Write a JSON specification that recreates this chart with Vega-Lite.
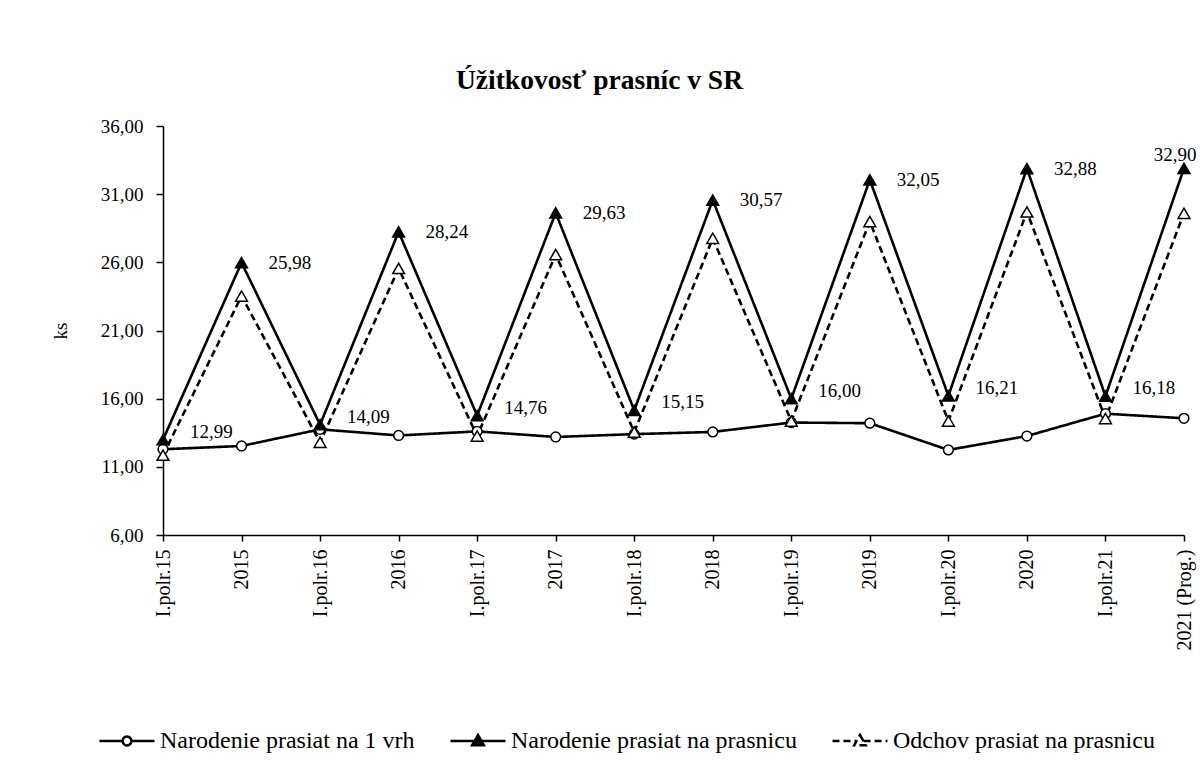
{
  "$schema": "https://vega.github.io/schema/vega-lite/v6.json",
  "width": 1021,
  "height": 409,
  "padding": {"left": 51, "top": 66, "right": 10, "bottom": 5},
  "background": "white",
  "title": {
    "text": "Úžitkovosť prasníc  v SR",
    "font": "Liberation Serif",
    "fontSize": 27.5,
    "fontWeight": "bold",
    "color": "black",
    "anchor": "middle",
    "dx": -74,
    "offset": 23
  },
  "data": {
    "values": [
      {"period": "I.polr.15", "kind": "polr", "series": "Narodenie prasiat na 1 vrh", "value": 12.29},
      {"period": "2015", "kind": "rok", "series": "Narodenie prasiat na 1 vrh", "value": 12.53},
      {"period": "I.polr.16", "kind": "polr", "series": "Narodenie prasiat na 1 vrh", "value": 13.75},
      {"period": "2016", "kind": "rok", "series": "Narodenie prasiat na 1 vrh", "value": 13.30},
      {"period": "I.polr.17", "kind": "polr", "series": "Narodenie prasiat na 1 vrh", "value": 13.60},
      {"period": "2017", "kind": "rok", "series": "Narodenie prasiat na 1 vrh", "value": 13.19},
      {"period": "I.polr.18", "kind": "polr", "series": "Narodenie prasiat na 1 vrh", "value": 13.40},
      {"period": "2018", "kind": "rok", "series": "Narodenie prasiat na 1 vrh", "value": 13.56},
      {"period": "I.polr.19", "kind": "polr", "series": "Narodenie prasiat na 1 vrh", "value": 14.25},
      {"period": "2019", "kind": "rok", "series": "Narodenie prasiat na 1 vrh", "value": 14.20},
      {"period": "I.polr.20", "kind": "polr", "series": "Narodenie prasiat na 1 vrh", "value": 12.24},
      {"period": "2020", "kind": "rok", "series": "Narodenie prasiat na 1 vrh", "value": 13.26},
      {"period": "I.polr.21", "kind": "polr", "series": "Narodenie prasiat na 1 vrh", "value": 14.90},
      {"period": "2021 (Prog.)", "kind": "last", "series": "Narodenie prasiat na 1 vrh", "value": 14.56},

      {"period": "I.polr.15", "kind": "polr", "series": "Narodenie prasiat na prasnicu", "value": 12.99},
      {"period": "2015", "kind": "rok", "series": "Narodenie prasiat na prasnicu", "value": 25.98},
      {"period": "I.polr.16", "kind": "polr", "series": "Narodenie prasiat na prasnicu", "value": 14.09},
      {"period": "2016", "kind": "rok", "series": "Narodenie prasiat na prasnicu", "value": 28.24},
      {"period": "I.polr.17", "kind": "polr", "series": "Narodenie prasiat na prasnicu", "value": 14.76},
      {"period": "2017", "kind": "rok", "series": "Narodenie prasiat na prasnicu", "value": 29.63},
      {"period": "I.polr.18", "kind": "polr", "series": "Narodenie prasiat na prasnicu", "value": 15.15},
      {"period": "2018", "kind": "rok", "series": "Narodenie prasiat na prasnicu", "value": 30.57},
      {"period": "I.polr.19", "kind": "polr", "series": "Narodenie prasiat na prasnicu", "value": 16.00},
      {"period": "2019", "kind": "rok", "series": "Narodenie prasiat na prasnicu", "value": 32.05},
      {"period": "I.polr.20", "kind": "polr", "series": "Narodenie prasiat na prasnicu", "value": 16.21},
      {"period": "2020", "kind": "rok", "series": "Narodenie prasiat na prasnicu", "value": 32.88},
      {"period": "I.polr.21", "kind": "polr", "series": "Narodenie prasiat na prasnicu", "value": 16.18},
      {"period": "2021 (Prog.)", "kind": "last", "series": "Narodenie prasiat na prasnicu", "value": 32.90},

      {"period": "I.polr.15", "kind": "polr", "series": "Odchov prasiat na prasnicu", "value": 11.85},
      {"period": "2015", "kind": "rok", "series": "Odchov prasiat na prasnicu", "value": 23.53},
      {"period": "I.polr.16", "kind": "polr", "series": "Odchov prasiat na prasnicu", "value": 12.80},
      {"period": "2016", "kind": "rok", "series": "Odchov prasiat na prasnicu", "value": 25.55},
      {"period": "I.polr.17", "kind": "polr", "series": "Odchov prasiat na prasnicu", "value": 13.26},
      {"period": "2017", "kind": "rok", "series": "Odchov prasiat na prasnicu", "value": 26.57},
      {"period": "I.polr.18", "kind": "polr", "series": "Odchov prasiat na prasnicu", "value": 13.55},
      {"period": "2018", "kind": "rok", "series": "Odchov prasiat na prasnicu", "value": 27.76},
      {"period": "I.polr.19", "kind": "polr", "series": "Odchov prasiat na prasnicu", "value": 14.36},
      {"period": "2019", "kind": "rok", "series": "Odchov prasiat na prasnicu", "value": 28.99},
      {"period": "I.polr.20", "kind": "polr", "series": "Odchov prasiat na prasnicu", "value": 14.36},
      {"period": "2020", "kind": "rok", "series": "Odchov prasiat na prasnicu", "value": 29.70},
      {"period": "I.polr.21", "kind": "polr", "series": "Odchov prasiat na prasnicu", "value": 14.54},
      {"period": "2021 (Prog.)", "kind": "last", "series": "Odchov prasiat na prasnicu", "value": 29.60}
    ]
  },
  "encoding": {
    "x": {
      "field": "period",
      "type": "ordinal",
      "sort": ["I.polr.15", "2015", "I.polr.16", "2016", "I.polr.17", "2017", "I.polr.18", "2018", "I.polr.19", "2019", "I.polr.20", "2020", "I.polr.21", "2021 (Prog.)"],
      "scale": {"type": "point", "padding": 0},
      "axis": {
        "title": null,
        "labelAngle": -90,
        "labelFontSize": 20,
        "labelPadding": 8,
        "tickSize": 6,
        "domainWidth": 1.5,
        "tickWidth": 1.5
      }
    },
    "y": {
      "field": "value",
      "type": "quantitative",
      "scale": {"domain": [6, 36], "nice": false, "zero": false},
      "axis": {
        "title": "ks",
        "titleFontSize": 19,
        "titleFontWeight": "normal",
        "titlePadding": 30,
        "values": [6, 11, 16, 21, 26, 31, 36],
        "format": ".2f",
        "labelFontSize": 19,
        "labelPadding": 13,
        "tickSize": 7,
        "grid": false,
        "domainWidth": 1.5,
        "tickWidth": 1.5
      }
    }
  },
  "layer": [
    {
      "mark": {"type": "line", "color": "black", "strokeWidth": 2.6},
      "encoding": {
        "strokeDash": {
          "field": "series",
          "type": "nominal",
          "scale": {
            "domain": ["Narodenie prasiat na 1 vrh", "Narodenie prasiat na prasnicu", "Odchov prasiat na prasnicu"],
            "range": [[1, 0], [1, 0], [7, 4]]
          },
          "legend": {
            "title": null,
            "orient": "none",
            "legendX": -65,
            "legendY": 586,
            "direction": "horizontal",
            "labelFontSize": 24,
            "labelFont": "Liberation Serif",
            "labelColor": "black",
            "labelLimit": 0,
            "labelOffset": 4,
            "columnPadding": 30,
            "symbolSize": 3025,
            "symbolStrokeWidth": 2.5,
            "symbolStrokeColor": "black",
            "encode": {
              "symbols": {
                "update": {
                  "shape": {"signal": "datum.value === 'Narodenie prasiat na 1 vrh' ? 'M-1,0H-0.16M0.16,0H1M0.16,0A0.16,0.16,0,1,1,-0.16,0A0.16,0.16,0,1,1,0.16,0Z' : datum.value === 'Narodenie prasiat na prasnicu' ? 'M-1,0H1M0,-0.22L0.21,0.15L-0.21,0.15Z' : 'M-1,0H-0.13M0.13,0H1M0,-0.22L0.21,0.15L-0.21,0.15Z'"},
                  "fill": {"signal": "datum.value === 'Narodenie prasiat na prasnicu' ? 'black' : 'white'"},
                  "strokeDash": {"signal": "datum.value === 'Odchov prasiat na prasnicu' ? [4, 3] : [1, 0]"},
                  "stroke": {"value": "black"},
                  "strokeWidth": {"value": 2.5},
                  "opacity": {"value": 1}
                }
              }
            }
          }
        }
      }
    },
    {
      "transform": [{"filter": "datum.series === 'Narodenie prasiat na 1 vrh'"}],
      "mark": {"type": "point", "shape": "circle", "filled": true, "fill": "white", "stroke": "black", "strokeWidth": 1.5, "opacity": 1, "size": 95},
      "encoding": {}
    },
    {
      "transform": [{"filter": "datum.series === 'Narodenie prasiat na prasnicu'"}],
      "mark": {"type": "point", "shape": "triangle-up", "filled": true, "fill": "black", "stroke": "black", "strokeWidth": 1.5, "opacity": 1, "size": 140},
      "encoding": {}
    },
    {
      "transform": [{"filter": "datum.series === 'Odchov prasiat na prasnicu'"}],
      "mark": {"type": "point", "shape": "triangle-up", "filled": true, "fill": "white", "stroke": "black", "strokeWidth": 1.5, "opacity": 1, "size": 140},
      "encoding": {}
    },
    {
      "transform": [{"filter": "datum.series === 'Narodenie prasiat na prasnicu' && datum.kind === 'rok'"}],
      "mark": {"type": "text", "align": "left", "baseline": "middle", "dx": 27, "dy": 0, "fontSize": 19, "font": "Liberation Serif", "color": "black"},
      "encoding": {"text": {"field": "value", "type": "quantitative", "format": ".2f"}}
    },
    {
      "transform": [{"filter": "datum.series === 'Narodenie prasiat na prasnicu' && datum.kind === 'polr'"}],
      "mark": {"type": "text", "align": "left", "baseline": "middle", "dx": 27, "dy": -8, "fontSize": 19, "font": "Liberation Serif", "color": "black"},
      "encoding": {"text": {"field": "value", "type": "quantitative", "format": ".2f"}}
    },
    {
      "transform": [{"filter": "datum.series === 'Narodenie prasiat na prasnicu' && datum.kind === 'last'"}],
      "mark": {"type": "text", "align": "center", "baseline": "middle", "dx": -9, "dy": -13, "fontSize": 19, "font": "Liberation Serif", "color": "black"},
      "encoding": {"text": {"field": "value", "type": "quantitative", "format": ".2f"}}
    }
  ],
  "config": {
    "view": {"stroke": null},
    "font": "Liberation Serif",
    "locale": {
      "number": {"decimal": ",", "thousands": " ", "grouping": [3], "currency": ["", " €"]}
    },
    "axis": {
      "labelFont": "Liberation Serif",
      "titleFont": "Liberation Serif",
      "labelColor": "black",
      "titleColor": "black",
      "domainColor": "black",
      "tickColor": "black"
    }
  }
}
